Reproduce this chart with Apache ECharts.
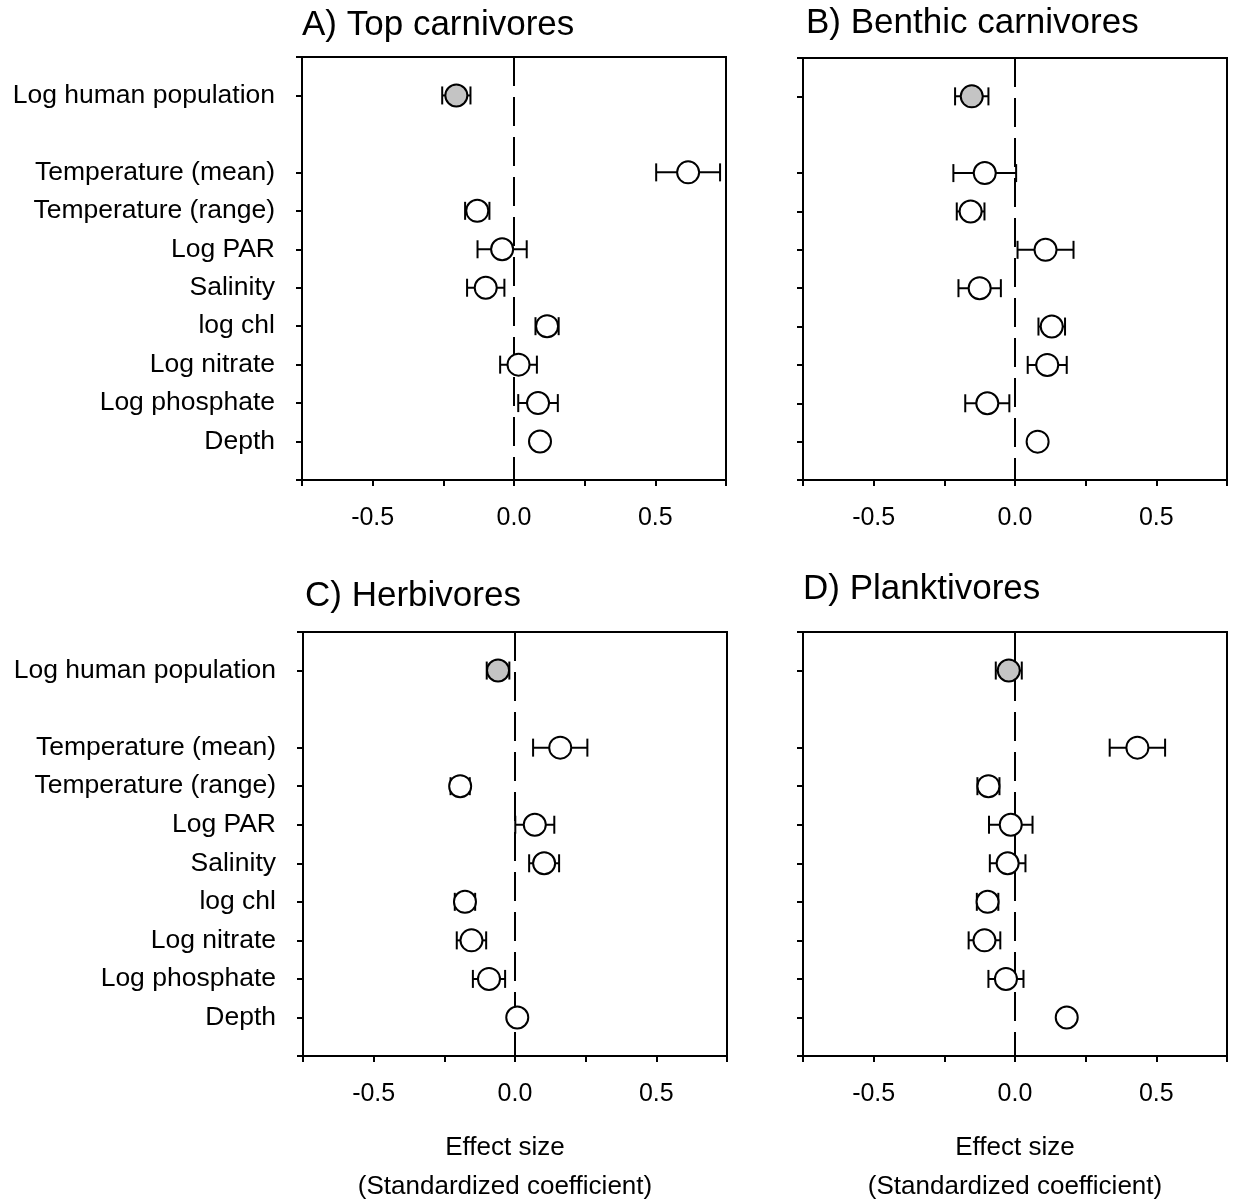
<!DOCTYPE html>
<html>
<head>
<meta charset="utf-8">
<title>Effect sizes</title>
<script src="https://cdn.jsdelivr.net/npm/echarts@6/dist/echarts.min.js"></script>
<style>
  body { margin: 0; background: #fff; }
  #main { width: 1233px; height: 1200px; }
</style>
</head>
<body>
<div id="main"></div>
<script>
// rows (top to bottom), position 2 is left empty in the figure
var rowLabels = ["Log human population", "Temperature (mean)", "Temperature (range)", "Log PAR",
  "Salinity", "log chl", "Log nitrate", "Log phosphate", "Depth"];
var rowPos = [1, 3, 4, 5, 6, 7, 8, 9, 10];
var yTicks = [0, 1, 3, 4, 5, 6, 7, 8, 9, 10, 11];

var panelTitles = ["A) Top carnivores", "B) Benthic carnivores", "C) Herbivores", "D) Planktivores"];

// standardized coefficients and error bar half-widths (null = no bar)
var topMean = [-0.204, 0.616, -0.130, -0.042, -0.100, 0.117, 0.016, 0.085, 0.092];
var topErr = [0.050, 0.113, 0.043, 0.087, 0.066, 0.041, 0.065, 0.070, null];
var benthicMean = [-0.153, -0.107, -0.157, 0.108, -0.125, 0.130, 0.114, -0.098, 0.080];
var benthicErr = [0.059, 0.111, 0.049, 0.099, 0.075, 0.047, 0.069, 0.078, null];
var herbMean = [-0.060, 0.160, -0.194, 0.070, 0.103, -0.177, -0.154, -0.092, 0.008];
var herbErr = [0.040, 0.096, 0.034, 0.069, 0.053, 0.036, 0.052, 0.057, null];
var planktMean = [-0.022, 0.433, -0.094, -0.015, -0.026, -0.097, -0.108, -0.032, 0.183];
var planktErr = [0.046, 0.098, 0.039, 0.077, 0.063, 0.038, 0.056, 0.062, null];

var means = [topMean, benthicMean, herbMean, planktMean];
var errs = [topErr, benthicErr, herbErr, planktErr];

var FONT = "Liberation Sans, Arial, sans-serif";

// plot boxes in pixels
var boxes = [
  { left: 302, top: 57, width: 424, height: 423 },
  { left: 803, top: 58, width: 424, height: 422 },
  { left: 303, top: 632, width: 424, height: 424 },
  { left: 803, top: 632, width: 424, height: 424 }
];
var titlePos = [[302, 8], [806, 6], [305, 579], [803, 572]];

var grid = [], xAxis = [], yAxis = [], series = [], title = [];

for (let p = 0; p < 4; p++) {
  grid.push({
    left: boxes[p].left, top: boxes[p].top, width: boxes[p].width, height: boxes[p].height,
    outerBoundsMode: "none", containLabel: false,
    show: true, borderColor: "#000", borderWidth: 2, backgroundColor: "#fff"
  });

  title.push({
    text: panelTitles[p], left: titlePos[p][0], top: titlePos[p][1], padding: 0,
    textStyle: { fontFamily: FONT, fontSize: 35, fontWeight: "normal", color: "#000" }
  });

  var bottomRow = p >= 2;
  xAxis.push({
    gridIndex: p, type: "value", min: -0.75, max: 0.75, interval: 0.25,
    splitLine: { show: false },
    axisLine: { show: true, onZero: false, lineStyle: { color: "#000", width: 2 } },
    axisTick: { show: true, length: 6, lineStyle: { color: "#000", width: 2 } },
    axisLabel: {
      margin: 26, fontFamily: FONT, fontSize: 25, color: "#000",
      formatter: function (v) {
        var h = v * 2;
        return Math.abs(h - Math.round(h)) < 1e-6 ? v.toFixed(1) : "";
      }
    },
    name: bottomRow ? "Effect size\n(Standardized coefficient)" : "",
    nameLocation: "middle", nameGap: 72,
    nameTextStyle: {
      fontFamily: FONT, fontSize: 26, color: "#000", lineHeight: 39,
      padding: p === 2 ? [0, 20, 0, 0] : 0
    }
  });

  var leftCol = p % 2 === 0;
  yAxis.push({
    gridIndex: p, type: "value", inverse: true, min: 0, max: 11,
    splitLine: { show: false },
    axisLine: { show: true, onZero: false, lineStyle: { color: "#000", width: 2 } },
    axisTick: { show: true, length: 6, customValues: yTicks, lineStyle: { color: "#000", width: 2 } },
    axisLabel: {
      show: leftCol, customValues: rowPos, margin: 27,
      fontFamily: FONT, fontSize: 26.5, color: "#000", lineHeight: 30,
      padding: [3, 0, 0, 0],
      formatter: function (v) {
        var i = rowPos.indexOf(v);
        return i >= 0 ? rowLabels[i] : "";
      }
    }
  });

  // error bars
  var barData = [];
  for (let i = 0; i < rowPos.length; i++) {
    if (errs[p][i] == null) continue;
    barData.push([means[p][i] - errs[p][i], means[p][i] + errs[p][i], rowPos[i]]);
  }
  series.push({
    type: "custom", xAxisIndex: p, yAxisIndex: p, z: 3, silent: true,
    data: barData,
    encode: { x: [0, 1], y: 2 },
    renderItem: function (params, api) {
      var lo = api.coord([api.value(0), api.value(2)]);
      var hi = api.coord([api.value(1), api.value(2)]);
      var h = 9;
      var st = { stroke: "#000", lineWidth: 2 };
      return {
        type: "group",
        children: [
          { type: "line", shape: { x1: lo[0], y1: lo[1], x2: hi[0], y2: hi[1] }, style: st },
          { type: "line", shape: { x1: lo[0], y1: lo[1] - h, x2: lo[0], y2: lo[1] + h }, style: st },
          { type: "line", shape: { x1: hi[0], y1: hi[1] - h, x2: hi[0], y2: hi[1] + h }, style: st }
        ]
      };
    }
  });

  // points, first row (human population) is grey
  var pts = [];
  for (let i = 0; i < rowPos.length; i++) {
    pts.push({
      value: [means[p][i], rowPos[i]],
      itemStyle: { color: i === 0 ? "#c4c4c4" : "#fff" }
    });
  }
  series.push({
    type: "scatter", xAxisIndex: p, yAxisIndex: p, z: 5, silent: true,
    symbol: "circle", symbolSize: 22,
    itemStyle: { borderColor: "#000", borderWidth: 2, opacity: 1 },
    data: pts,
    markLine: {
      silent: true, symbol: "none", z: 2,
      label: { show: false },
      lineStyle: { color: "#000", width: 2, type: [29, 11] },
      data: [{ xAxis: 0 }]
    }
  });
}

var myChart = echarts.init(document.getElementById("main"));
myChart.setOption({
  animation: false,
  backgroundColor: "#fff",
  title: title,
  grid: grid,
  xAxis: xAxis,
  yAxis: yAxis,
  series: series
});
</script>
</body>
</html>
